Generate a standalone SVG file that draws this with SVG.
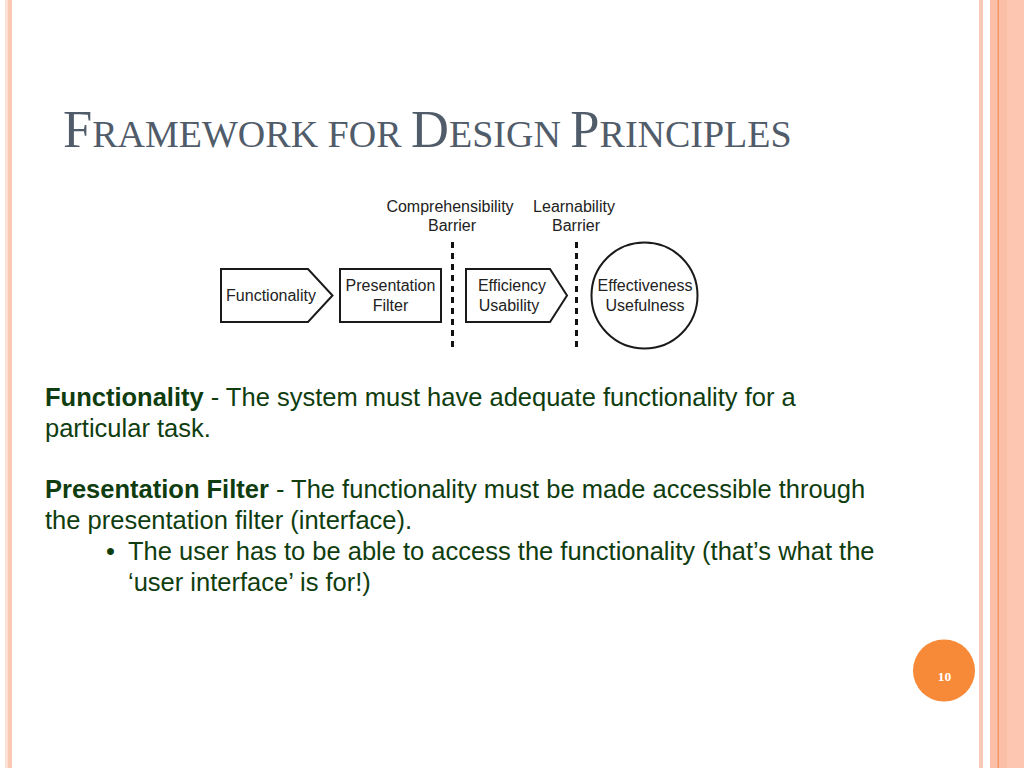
<svg xmlns="http://www.w3.org/2000/svg" width="1024" height="768" viewBox="0 0 1024 768">
<defs>
<style>
.title{font-family:"Liberation Serif","Times New Roman",serif;fill:#515c6a}
.big{font-size:52.5px}
.sm{font-size:38px}
.node{fill:#fff;stroke:#1a1a1a;stroke-width:2}
.lbl{font-family:"Liberation Sans",Arial,sans-serif;font-size:16px;fill:#222;text-anchor:middle}
.barrier{stroke:#111;stroke-width:3;stroke-dasharray:6 5;fill:none}
.body{font-family:"Liberation Sans",Arial,sans-serif;font-size:25.5px;fill:#0f3d0f}
.b{font-weight:bold}
</style>
</defs>
<rect width="1024" height="768" fill="#fff"/>
<g id="frame">
<rect x="5" y="0" width="3" height="768" fill="#fde0d4"/>
<rect x="8" y="0" width="4" height="768" fill="#fbc8b2"/>
<rect x="979" y="0" width="4" height="768" fill="#f9c9b8"/>
<rect x="990" y="0" width="34" height="768" fill="#fcc6b1"/>
<rect x="990" y="0" width="7" height="768" fill="#fbbea6"/>
<rect x="997.5" y="0" width="1.5" height="768" fill="#ef9662"/>
<rect x="999" y="0" width="8" height="768" fill="#fbbea6"/>
</g>
<text class="title" x="63" y="147"><tspan class="big">F</tspan><tspan class="sm">RAMEWORK FOR </tspan><tspan class="big">D</tspan><tspan class="sm">ESIGN </tspan><tspan class="big">P</tspan><tspan class="sm">RINCIPLES</tspan></text>
<g id="connectors">
<line id="comprehensibility-barrier" class="barrier" x1="452.5" y1="242" x2="452.5" y2="348"/>
<line id="learnability-barrier" class="barrier" x1="576.5" y1="242" x2="576.5" y2="348"/>
</g>
<g id="barrier-labels">
<text class="lbl" x="450" y="212">Comprehensibility</text>
<text class="lbl" x="452" y="231">Barrier</text>
<text class="lbl" x="574" y="212">Learnability</text>
<text class="lbl" x="576" y="231">Barrier</text>
</g>
<g id="functionality">
<path class="node" d="M221 269 H308 L332.5 295.5 L308 322 H221 Z"/>
<text class="lbl" x="271" y="301">Functionality</text>
</g>
<g id="presentation-filter">
<rect class="node" x="340" y="269" width="101" height="53"/>
<text class="lbl" x="390.5" y="291">Presentation</text>
<text class="lbl" x="390.5" y="310.5">Filter</text>
</g>
<g id="efficiency-usability">
<path class="node" d="M466 269 H550 L567 295.5 L550 322 H466 Z"/>
<text class="lbl" x="512" y="291">Efficiency</text>
<text class="lbl" x="509" y="310.5">Usability</text>
</g>
<g id="effectiveness-usefulness">
<circle class="node" cx="644.5" cy="295.5" r="53"/>
<text class="lbl" x="645" y="291">Effectiveness</text>
<text class="lbl" x="645" y="310.5">Usefulness</text>
</g>
<g id="body-text" class="body">
<text x="45" y="406"><tspan class="b">Functionality</tspan> - The system must have adequate functionality for a</text>
<text x="45" y="437">particular task.</text>
<text x="45" y="498"><tspan class="b">Presentation Filter</tspan> - The functionality must be made accessible through</text>
<text x="45" y="529">the presentation filter (interface).</text>
<text x="106" y="560">•</text>
<text x="128" y="560">The user has to be able to access the functionality (that’s what the</text>
<text x="128" y="591">‘user interface’ is for!)</text>
</g>
<g id="page-number">
<circle cx="944" cy="670.5" r="31" fill="#f78a38"/>
<text x="944.5" y="681" font-family="Liberation Serif,serif" font-weight="bold" font-size="13.5" fill="#fff" text-anchor="middle">10</text>
</g>
</svg>
